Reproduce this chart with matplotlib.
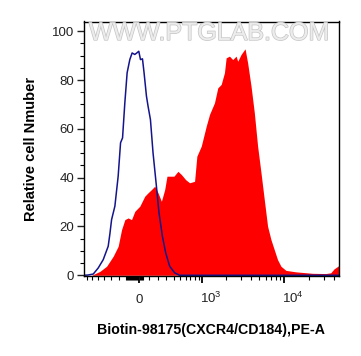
import numpy as np
import matplotlib
matplotlib.use("Agg")
import matplotlib.pyplot as plt
import matplotlib.patheffects as pe
from matplotlib.transforms import blended_transform_factory

plt.rcParams['font.family'] = ['Liberation Sans', 'DejaVu Sans']

# histogram outlines, x in display channels (0..256), y in % of max
isotype_ch = [0, 4, 9.3, 14.3, 19.3, 24.3, 26, 27.7, 31, 34.3, 36.7, 38.7, 41, 43.3,
              46, 48.3, 51, 52.7, 55, 56.7, 58.7, 60.3, 62.7, 64.3, 66.7, 69.3, 72.7,
              75.3, 78.7, 82, 86, 91, 96, 256]
isotype_y = [0, 0.1, 0.5, 3, 6.4, 11.9, 17, 22.8, 28.3, 40.6, 54.3, 56.3, 70.7, 83,
             88.4, 91.1, 90.5, 91, 91.8, 88.4, 88.7, 83, 73.4, 69.3, 63.8, 50.2, 36.5,
             25.6, 16, 9.2, 3.7, 1, 0, 0]

stain_ch = [0, 7.7, 16, 22.7, 29.3, 34.3, 37.7, 41, 44.3, 47.7, 51, 56, 61, 64.3, 67.7,
            71, 74.3, 77.7, 81, 83.3, 87.7, 90.3, 94.3, 97.7, 102, 106, 111, 113.3,
            117.7, 122.7, 126, 131, 134.3, 137.7, 141, 142.7, 146, 149.3, 152.7, 154.3,
            157.7, 161.7, 164.3, 167.7, 171, 174.3, 177.7, 181, 184.3, 187.7, 191,
            194.3, 197.7, 202.7, 212.7, 229.3, 242.7, 247.7, 251, 256]
stain_y = [0, 0, 1.6, 3.7, 7.8, 11.9, 18.7, 22.8, 23.5, 22.8, 26.2, 28.3, 32.4, 33.8,
           35.1, 36.5, 33.8, 30.3, 35.1, 40.6, 40.6, 40.6, 42.6, 41.3, 39.2, 37.9, 38.5,
           48.8, 52.9, 61.1, 65.9, 70.7, 76.8, 78.2, 83, 89.1, 89.8, 88.4, 89.8, 87.7,
           90.5, 92.8, 87, 77.5, 66.6, 52.9, 42, 31, 20.1, 14.6, 10.5, 6.4, 3.7, 2,
           1.4, 0.8, 0.7, 1, 2.6, 4]


def chan(v):
    # biexponential-like display transform used by the cytometer software
    return 55 + 36.2 * np.arcsinh(np.asarray(v, dtype=float) / 355.0)


fig = plt.figure(figsize=(3.61, 3.56), dpi=100)
ax = fig.add_axes([84 / 361, 80 / 356, 255 / 361, 254.5 / 356])

ax.fill_between(stain_ch, stain_y, 0, color='#ff0000', lw=0)
ax.plot(isotype_ch, isotype_y, color='#14148c', lw=1.1)

ax.set_xlim(0, 256)
ax.set_ylim(-0.3, 104)

# y axis
ax.set_yticks([0, 20, 40, 60, 80, 100])
ax.set_yticks(np.arange(0, 105, 5), minor=True)
ax.tick_params(axis='y', which='major', length=5, width=1, pad=2, labelsize=9.5,
               colors='#222222')
ax.tick_params(axis='y', which='minor', length=3, width=0.8)

# x axis
major_v = [0, 1e3, 1e4]
minor_v = ([-700, -600, -500, -400, -300, -200] + list(range(-130, 50, 10))
           + list(range(100, 1000, 100)) + list(range(2000, 10000, 1000))
           + [20000, 30000, 40000])
ax.set_xticks(chan(major_v))
ax.set_xticks(chan(minor_v), minor=True)
ax.set_xticklabels([])
ax.tick_params(axis='x', which='major', length=5, width=1.3)
ax.tick_params(axis='x', which='minor', length=3, width=0.8)

trans = blended_transform_factory(ax.transData, ax.transAxes)
ax.text(chan(0), -0.107, '0', transform=trans, ha='center', va='baseline',
        fontsize=9.5, color='#222222')
ax.text(chan(1e3) + 9, -0.107, r'$\mathdefault{10^3}$', transform=trans,
        ha='center', va='baseline', fontsize=9.5, color='#222222')
ax.text(chan(1e4) + 9, -0.107, r'$\mathdefault{10^4}$', transform=trans,
        ha='center', va='baseline', fontsize=9.5, color='#222222')

for s in ax.spines.values():
    s.set_linewidth(1)

# watermark
ax.text(0.49, 0.955, 'WWW.PTGLAB.COM', transform=ax.transAxes, ha='center',
        va='center', fontsize=18, color='#ececec',
        path_effects=[pe.withStroke(linewidth=1, foreground='#c4c4c4')])

ax.set_ylabel('Relative cell Nmuber', fontsize=10.5, fontweight='bold', labelpad=10)
ax.set_xlabel('Biotin-98175(CXCR4/CD184),PE-A', fontsize=10.2, fontweight='bold',
              labelpad=25)

fig.savefig('out.png', dpi=100)
